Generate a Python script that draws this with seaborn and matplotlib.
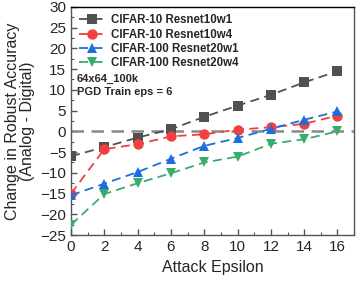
import numpy as np
import pandas as pd
import matplotlib
matplotlib.use("Agg")
import matplotlib.pyplot as plt
import matplotlib.ticker as ticker
import seaborn as sns

EPS = [0, 2, 4, 6, 8, 10, 12, 14, 16]
R10W1 = [-6.0, -3.8, -1.5, 0.5, 3.5, 6.2, 8.8, 11.8, 14.5]
R10W4 = [-15.0, -4.3, -3.1, -1.2, -0.7, 0.4, 1.0, 1.8, 3.8]
R20W1 = [-15.4, -12.6, -9.8, -6.6, -3.5, -1.6, 0.6, 2.8, 4.8]
R20W4 = [-22.5, -15.1, -12.5, -10.1, -7.5, -6.1, -3.0, -1.9, 0.0]

NAMES = ["CIFAR-10 Resnet10w1", "CIFAR-10 Resnet10w4",
         "CIFAR-100 Resnet20w1", "CIFAR-100 Resnet20w4"]
COLORS = ["#515151", "#F14040", "#1A6FDF", "#37AD6B"]
MARKERS = ["s", "o", "^", "v"]

sns.set_style("ticks")
plt.rcParams["font.family"] = ["Liberation Sans", "DejaVu Sans"]

fig = plt.figure(figsize=(3.57, 2.86), dpi=100)
ax = fig.add_axes([0.199, 0.178, 0.793, 0.798])

ax.axhline(0, color="#888888", lw=1.8, ls=(0, (5, 3)), zorder=1)

for name, vals, c, m in zip(NAMES, [R10W1, R10W4, R20W1, R20W4], COLORS, MARKERS):
    df = pd.DataFrame({"eps": EPS, "val": vals})
    sns.lineplot(data=df, x="eps", y="val", ax=ax, color=c, marker=m,
                 markersize=7.5, markeredgewidth=0, linestyle=(0, (5, 3)),
                 lw=1.3, label=name, zorder=3)

ax.set_xlim(0, 17)
ax.set_ylim(-25, 30)
ax.xaxis.set_major_locator(ticker.MultipleLocator(2))
ax.xaxis.set_minor_locator(ticker.MultipleLocator(1))
ax.yaxis.set_major_locator(ticker.MultipleLocator(5))
ax.yaxis.set_minor_locator(ticker.MultipleLocator(2.5))
ax.tick_params(which="both", direction="in", labelsize=11, color="#555555")
ax.tick_params(which="major", length=4, width=1)
ax.tick_params(which="minor", length=2, width=0.8)
for s in ax.spines.values():
    s.set_color("#555555")
    s.set_linewidth(1)
ax.spines["top"].set_color("black")

ax.set_xlabel("Attack Epsilon", fontsize=11.5)
ax.set_ylabel("Change in Robust Accuracy\n(Analog - Digital)", fontsize=11.5,
              linespacing=1.0)

leg = ax.legend(loc="upper left", frameon=False,
                handlelength=2.4, handletextpad=0.4, labelspacing=0.2,
                borderaxespad=0.25, prop={"weight": "bold", "size": 8.3})

ax.text(0.02, 0.705, "64x64_100k\nPGD Train eps = 6", transform=ax.transAxes,
        fontsize=8, fontweight="bold", va="top", linespacing=1.35)

fig.savefig("out.png", dpi=100)
